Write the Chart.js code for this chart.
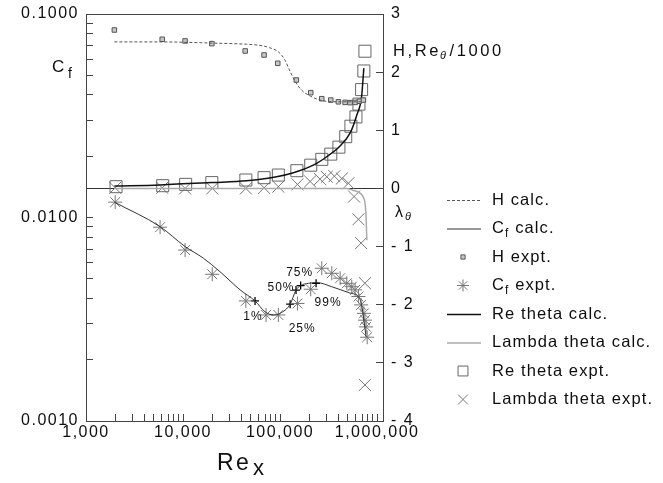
<!DOCTYPE html>
<html>
<head>
<meta charset="utf-8">
<script src="https://cdn.jsdelivr.net/npm/chart.js@4.4.1/dist/chart.umd.min.js"></script>
<style>
  body { margin: 0; background: #fff; }
  canvas { display: block; }
</style>
</head>
<body>
<canvas id="grafico" width="663" height="483"></canvas>
<script>
var FUENTE = '"Liberation Sans", Arial, Helvetica, sans-serif';
var TINTA = '#0e0e0e';

// Ejes
var xTicks = [1000, 2000, 3000, 4000, 5000, 6000, 7000, 8000, 9000,
  10000, 20000, 30000, 40000, 50000, 60000, 70000, 80000, 90000,
  100000, 200000, 300000, 400000, 500000, 600000, 700000, 800000, 900000, 1000000];
var xLabels = [1000, 10000, 100000, 1000000];
var cfTicks = [0.001, 0.002, 0.003, 0.004, 0.005, 0.006, 0.007, 0.008, 0.009,
  0.01, 0.02, 0.03, 0.04, 0.05, 0.06, 0.07, 0.08, 0.09, 0.1];
var cfLabels = [0.001, 0.01, 0.1];
var rTicks = [-4, -3, -2, -1, 0, 1, 2, 3];
var rLabels = ['- 4', '- 3', '- 2', '- 1', '0', '1', '2', '3'];

// H calculado (eje derecho)
var hCalcX = [1960, 5800, 19800, 45000, 62000, 78000, 96000, 112000, 127000, 143000, 167000, 204000, 258000, 354000, 692000];
var hCalcY = [2.52, 2.52, 2.50, 2.48, 2.46, 2.42, 2.35, 2.21, 2.01, 1.84, 1.69, 1.59, 1.52, 1.49, 1.49];

// Cf calculado (eje izquierdo)
var cfCalcX = [1960, 5790, 10500, 16200, 24000, 38700, 55200, 70000, 85300, 100000, 127000, 146000, 163000, 196000, 239000, 341000, 527000, 642000, 692000, 730000, 770000];
var cfCalcY = [0.0119, 0.00902, 0.0072, 0.00631, 0.00542, 0.00441, 0.00389, 0.00344, 0.00332, 0.00338, 0.00375, 0.0044, 0.00463, 0.00475, 0.00479, 0.00457, 0.00425, 0.00408, 0.00372, 0.00313, 0.00259];

// H experimental
var hExpX = [1960, 6100, 10500, 19800, 43700, 68400, 94600, 147000, 207000, 269000, 333000, 399000, 468000, 526000, 593000, 657000, 723000];
var hExpY = [2.725, 2.565, 2.536, 2.49, 2.364, 2.295, 2.152, 1.865, 1.647, 1.543, 1.52, 1.49, 1.48, 1.475, 1.48, 1.50, 1.52];

// Cf experimental
var cfExpX = [2000, 5800, 10500, 20000, 44400, 71700, 96000, 151000, 207000, 269000, 341000, 416000, 487000, 548000, 593000, 642000, 684000, 730000, 749000, 770000, 790000];
var cfExpY = [0.0119, 0.00896, 0.00692, 0.00526, 0.00389, 0.00332, 0.00332, 0.00378, 0.00444, 0.00563, 0.00532, 0.00503, 0.00475, 0.00457, 0.00441, 0.00409, 0.00372, 0.00338, 0.00313, 0.0029, 0.00258];

// Re theta / 1000 calculado
var reCalcX = [1960, 5800, 19800, 45000, 92000, 137000, 220000, 303000, 410000, 526000, 617000, 692000, 730000];
var reCalcY = [0.04, 0.06, 0.10, 0.13, 0.20, 0.27, 0.40, 0.545, 0.72, 0.95, 1.26, 1.58, 2.07];

// Lambda theta calculado
var lamCalcX = [1960, 100000, 400000, 484000, 560000, 668000, 720000, 752000, 770000, 783000];
var lamCalcY = [0, 0, 0, 0.0, -0.03, -0.08, -0.15, -0.26, -0.49, -0.89];

// Re theta / 1000 experimental
var reExpX = [2040, 6170, 10640, 19800, 44400, 68400, 96000, 149000, 207000, 269000, 333000, 404000, 475000, 537000, 605000, 650000, 692000, 730000, 749000];
var reExpY = [0.03, 0.047, 0.07, 0.10, 0.145, 0.185, 0.23, 0.305, 0.40, 0.50, 0.59, 0.71, 0.89, 1.07, 1.23, 1.45, 1.70, 2.02, 2.36];

// Lambda theta experimental
var lamExpX = [2000, 6100, 10500, 20000, 44400, 68400, 96000, 151000, 204000, 258000, 303000, 363000, 433000, 506000, 579000, 642000, 684000, 749000, 749000];
var lamExpY = [0.01, 0.01, 0.0, 0.0, 0.0, 0.01, 0.03, 0.07, 0.12, 0.16, 0.20, 0.21, 0.17, 0.09, -0.14, -0.53, -0.94, -1.63, -3.38];

// Marcas de transicion sobre Cf calculado
var pctX = [55200, 127000, 146000, 163000, 235000];
var pctY = [0.00389, 0.00375, 0.0044, 0.00463, 0.00475];
var pctLabels = ['1%', '25%', '50%', '75%', '99%'];

function puntos(xs, ys) {
    return xs.map(function (x, i) { return { x: x, y: ys[i] }; });
}

// sin relleno automatico: el area del grafico queda fija
function sinRelleno(s) {
    s.paddingTop = 0;
    s.paddingBottom = 0;
    s.paddingLeft = 0;
    s.paddingRight = 0;
}

// Marco, titulos de ejes, leyenda y etiquetas de porcentaje
var extras = {
    id: 'extras',
    beforeDraw: function (chart) {
        chart.ctx.letterSpacing = '1.5px';
    },
    afterDraw: function (chart) {
        var ctx = chart.ctx;
        var a = chart.chartArea;
        ctx.save();
        ctx.strokeStyle = '#444';
        ctx.lineWidth = 1;
        ctx.strokeRect(Math.round(a.left) + 0.5, Math.round(a.top) + 0.5,
            Math.round(a.right - a.left), Math.round(a.bottom - a.top));

        ctx.fillStyle = TINTA;
        ctx.textBaseline = 'alphabetic';
        ctx.textAlign = 'left';

        // Cf
        ctx.letterSpacing = '0px';
        ctx.font = '17px ' + FUENTE;
        ctx.fillText('C', 52, 72);
        ctx.font = '14px ' + FUENTE;
        ctx.fillText('f', 68, 78);

        // H,Re_theta/1000
        ctx.letterSpacing = '2.6px';
        ctx.font = '16.5px ' + FUENTE;
        var x = 393;
        ctx.fillText('H,Re', x, 56);
        x += ctx.measureText('H,Re').width;
        ctx.font = 'italic 11px ' + FUENTE;
        ctx.fillText('θ', x - 1, 59);
        x += ctx.measureText('θ').width;
        ctx.font = '16.5px ' + FUENTE;
        ctx.fillText('/1000', x, 56);

        // lambda theta
        ctx.letterSpacing = '0px';
        ctx.font = '16px ' + FUENTE;
        ctx.fillText('λ', 395, 217);
        ctx.font = 'italic 11px ' + FUENTE;
        ctx.fillText('θ', 405, 220);

        // Re_x
        ctx.letterSpacing = '2.5px';
        ctx.font = '23px ' + FUENTE;
        ctx.fillText('Re', 217, 470);
        ctx.letterSpacing = '0px';
        ctx.font = '22px ' + FUENTE;
        ctx.fillText('x', 253, 475);

        // porcentajes
        var desp = [[-2, 16], [12, 25], [-15, -2], [-1, -13], [12, 19]];
        var metaPct = chart.getDatasetMeta(chart.data.datasets.length - 1);
        ctx.font = '12px ' + FUENTE;
        ctx.letterSpacing = '1px';
        ctx.textAlign = 'center';
        ctx.textBaseline = 'middle';
        metaPct.data.forEach(function (p, i) {
            ctx.fillText(pctLabels[i], p.x + desp[i][0], p.y + desp[i][1]);
        });

        // leyenda
        var fila = 0;
        chart.data.datasets.forEach(function (ds) {
            if (ds.enLeyenda === false) return;
            var y = 200 + fila * 28.5;
            fila++;
            ctx.save();
            if (ds.showLine === false) {
                ctx.strokeStyle = ds.pointBorderColor;
                ctx.fillStyle = ds.pointBackgroundColor || 'rgba(0,0,0,0)';
                ctx.lineWidth = ds.pointBorderWidth || 1;
                Chart.helpers.drawPoint(ctx, {
                    pointStyle: ds.pointStyle,
                    radius: ds.leyendaRadio,
                    borderWidth: ctx.lineWidth,
                    rotation: 0
                }, 463, y);
            } else {
                ctx.strokeStyle = ds.borderColor;
                ctx.lineWidth = ds.borderWidth;
                ctx.setLineDash(ds.borderDash || []);
                ctx.beginPath();
                ctx.moveTo(447, y + 0.5);
                ctx.lineTo(481, y + 0.5);
                ctx.stroke();
            }
            ctx.restore();

            ctx.fillStyle = TINTA;
            ctx.textAlign = 'left';
            ctx.textBaseline = 'middle';
            ctx.letterSpacing = '1.1px';
            var t = ds.label;
            var tx = 492;
            if (t.indexOf('Cf') === 0) {
                ctx.font = '16.5px ' + FUENTE;
                ctx.fillText('C', tx, y);
                tx += ctx.measureText('C').width;
                ctx.font = '12px ' + FUENTE;
                ctx.fillText('f', tx, y + 5);
                tx += ctx.measureText('f').width;
                t = t.slice(2);
            }
            ctx.font = '16.5px ' + FUENTE;
            ctx.fillText(t, tx, y);
        });
        ctx.restore();
    }
};

var fuenteTicks = { family: FUENTE, size: 16 };

new Chart(document.getElementById('grafico'), {
    type: 'line',
    data: {
        datasets: [{
            label: 'H calc.',
            data: puntos(hCalcX, hCalcY),
            yAxisID: 'yR',
            borderColor: '#555',
            borderWidth: 1,
            borderDash: [3, 2],
            pointRadius: 0,
            cubicInterpolationMode: 'monotone'
        }, {
            label: 'Cf calc.',
            data: puntos(cfCalcX, cfCalcY),
            yAxisID: 'yL',
            borderColor: '#333',
            borderWidth: 1,
            pointRadius: 0,
            cubicInterpolationMode: 'monotone'
        }, {
            label: 'H expt.',
            data: puntos(hExpX, hExpY),
            yAxisID: 'yR',
            showLine: false,
            pointStyle: 'rect',
            pointRadius: 3.2,
            leyendaRadio: 3,
            pointBorderWidth: 1,
            pointBorderColor: '#555',
            pointBackgroundColor: '#c8c8c8'
        }, {
            label: 'Cf expt.',
            data: puntos(cfExpX, cfExpY),
            yAxisID: 'yL',
            showLine: false,
            pointStyle: 'star',
            pointRadius: 7,
            leyendaRadio: 6,
            pointBorderWidth: 1,
            pointBorderColor: '#777'
        }, {
            label: 'Re theta calc.',
            data: puntos(reCalcX, reCalcY),
            yAxisID: 'yR',
            borderColor: '#111',
            borderWidth: 1.5,
            pointRadius: 0,
            cubicInterpolationMode: 'monotone'
        }, {
            label: 'Lambda theta calc.',
            data: puntos(lamCalcX, lamCalcY),
            yAxisID: 'yR',
            borderColor: '#aaa',
            borderWidth: 1.5,
            pointRadius: 0,
            cubicInterpolationMode: 'monotone'
        }, {
            label: 'Re theta expt.',
            data: puntos(reExpX, reExpY),
            yAxisID: 'yR',
            showLine: false,
            pointStyle: 'rect',
            pointRadius: 8.5,
            leyendaRadio: 7,
            pointBorderWidth: 1,
            pointBorderColor: '#666',
            pointBackgroundColor: 'rgba(0,0,0,0)'
        }, {
            label: 'Lambda theta expt.',
            data: puntos(lamExpX, lamExpY),
            yAxisID: 'yR',
            showLine: false,
            pointStyle: 'crossRot',
            pointRadius: 8.5,
            leyendaRadio: 7,
            pointBorderWidth: 1,
            pointBorderColor: '#777'
        }, {
            label: 'transicion',
            enLeyenda: false,
            data: puntos(pctX, pctY),
            yAxisID: 'yL',
            showLine: false,
            pointStyle: 'cross',
            pointRadius: 4,
            pointBorderWidth: 1.3,
            pointBorderColor: '#000'
        }]
    },
    options: {
        responsive: false,
        animation: false,
        layout: { autoPadding: false, padding: { top: 14, left: 0, right: 0, bottom: 0 } },
        plugins: { legend: { display: false }, tooltip: { enabled: false } },
        scales: {
            x: {
                type: 'logarithmic',
                position: 'bottom',
                min: 1000,
                max: 1150000,
                afterBuildTicks: function (s) {
                    s.ticks = xTicks.map(function (v) { return { value: v }; });
                },
                afterFit: function (s) { s.height = 62; sinRelleno(s); },
                ticks: {
                    autoSkip: false,
                    maxRotation: 0,
                    padding: 9,
                    color: TINTA,
                    font: fuenteTicks,
                    callback: function (v) {
                        return xLabels.indexOf(v) >= 0 ? v.toLocaleString('en-US') : '';
                    }
                },
                grid: { drawOnChartArea: false, tickLength: -7, tickColor: '#444' },
                border: { display: false }
            },
            yL: {
                type: 'logarithmic',
                position: 'left',
                min: 0.001,
                max: 0.1,
                afterBuildTicks: function (s) {
                    s.ticks = cfTicks.map(function (v) { return { value: v }; });
                },
                afterFit: function (s) { s.width = 86; sinRelleno(s); },
                ticks: {
                    autoSkip: false,
                    padding: 14,
                    color: TINTA,
                    font: fuenteTicks,
                    callback: function (v) {
                        return cfLabels.indexOf(v) >= 0 ? v.toFixed(4) : '';
                    }
                },
                grid: { drawOnChartArea: false, tickLength: -7, tickColor: '#444' },
                border: { display: false }
            },
            yR: {
                type: 'linear',
                position: 'right',
                min: -4,
                max: 3,
                afterBuildTicks: function (s) {
                    s.ticks = rTicks.map(function (v) { return { value: v }; });
                },
                afterFit: function (s) { s.width = 280; sinRelleno(s); },
                ticks: {
                    autoSkip: false,
                    padding: 15,
                    color: TINTA,
                    font: fuenteTicks,
                    callback: function (v) { return rLabels[rTicks.indexOf(v)]; }
                },
                grid: {
                    drawOnChartArea: true,
                    tickLength: -7,
                    tickColor: '#444',
                    color: function (c) {
                        return c.tick && c.tick.value === 0 ? '#333' : 'rgba(0,0,0,0)';
                    }
                },
                border: { display: false }
            }
        }
    },
    plugins: [extras]
});
</script>
</body>
</html>
